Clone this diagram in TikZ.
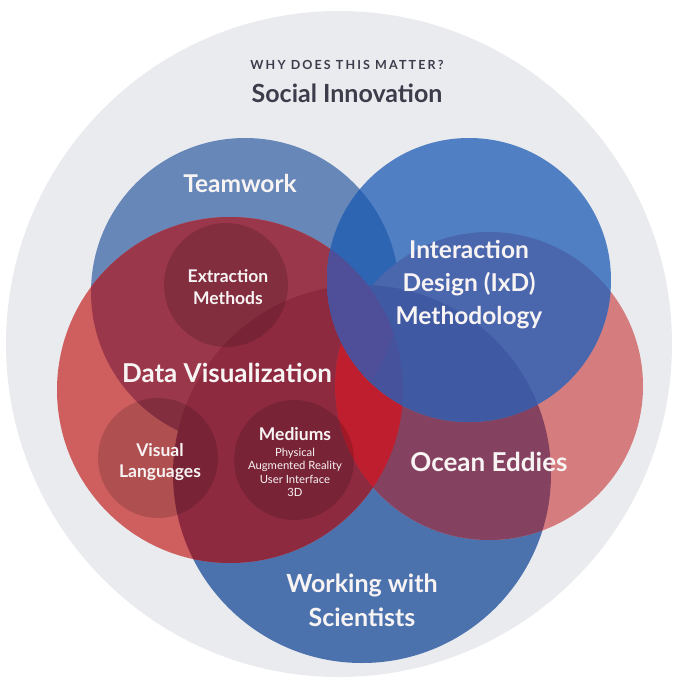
\documentclass[tikz,border=0pt]{standalone}
\usepackage{fontspec}
\setmainfont{Lato}
\definecolor{bgc}{HTML}{EAEBEF}
\definecolor{cT}{HTML}{6687B8}
\definecolor{cI}{HTML}{507FC3}
\definecolor{cD}{HTML}{CF5E5F}
\definecolor{cO}{HTML}{D47C7E}
\definecolor{cW}{HTML}{4C72AD}
\definecolor{cDT}{HTML}{9B374B}
\definecolor{cDW}{HTML}{8E2A40}
\definecolor{cOW}{HTML}{854260}
\definecolor{cDO}{HTML}{BE1E2D}
\definecolor{cIT}{HTML}{2E65B2}
\definecolor{cIO}{HTML}{4A66AD}
\definecolor{cIW}{HTML}{3F5AA3}
\definecolor{cID}{HTML}{47529C}
\definecolor{cIDT}{HTML}{4E4F98}
\definecolor{ink}{HTML}{3C3C4B}
\definecolor{paper}{HTML}{F8F4F4}
\begin{document}
\begin{tikzpicture}[x=1pt,y=-1pt,
  lbl/.style={text=paper,align=center,inner sep=0pt},
  big/.style={lbl,font=\bfseries\fontsize{25}{33}\selectfont},
  mid/.style={lbl,font=\bfseries\fontsize{17.5}{21}\selectfont},
  small/.style={lbl,font=\fontsize{11.3}{13.5}\selectfont},
  shade/.style={fill=black,fill opacity=0.15}]
\useasboundingbox (0,0) rectangle (678,685);
\def\Tc{(245,292) circle[radius=154pt]}
\def\Ic{(469,280) circle[radius=142pt]}
\def\Dc{(230,390) circle[radius=173pt]}
\def\Oc{(489,386) circle[radius=154pt]}
\def\Wc{(362,474) circle[radius=189pt]}
% background
\fill[bgc] (339,344) circle[radius=333pt];
% single circles
\fill[cT] \Tc;
\fill[cW] \Wc;
\fill[cD] \Dc;
\fill[cO] \Oc;
% overlaps in Data Visualization
\begin{scope}
  \clip \Dc;
  \fill[cDT] \Tc;
  \fill[cDW] \Wc;
\end{scope}
% overlaps in Ocean Eddies
\begin{scope}
  \clip \Oc;
  \fill[cOW] \Wc;
  \fill[cDO] \Dc;
\end{scope}
% Interaction Design on top
\fill[cI] \Ic;
\begin{scope}
  \clip \Ic;
  \fill[cIT] \Tc;
  \fill[cIO] \Oc;
  \fill[cIW] \Wc;
  \fill[cID] \Dc;
  \begin{scope}
    \clip \Dc;
    \fill[cIDT] \Tc;
  \end{scope}
\end{scope}
% inner circles
\fill[shade] (226,285) circle[radius=62pt];
\fill[shade] (158,458) circle[radius=60pt];
\fill[shade] (294,460) circle[radius=60pt];
% titles
\node[text=ink,inner sep=0pt,font=\bfseries\fontsize{12.5}{14}\selectfont\addfontfeature{LetterSpace=17}] (why) at (347,65) {WHY DOES THIS MATTER?};
\node[text=ink,inner sep=0pt,font=\bfseries\fontsize{25}{28}\selectfont] (social) at (347,93) {Social Innovation};
% labels
\node[big,font=\bfseries\fontsize{24.5}{28}\selectfont] (team) at (240,183) {Teamwork};
\node[big,font=\bfseries\fontsize{24.5}{33}\selectfont] (ixd) at (469,285) {Interaction\\Design (IxD)\\Methodology};
\node[big,font=\bfseries\fontsize{26}{33}\selectfont] (dv) at (227,373) {Data Visualization};
\node[big,font=\bfseries\fontsize{26}{33}\selectfont] (oe) at (489,462) {Ocean Eddies};
\node[big,font=\bfseries\fontsize{25}{34}\selectfont] (wws) at (362,600) {Working with\\Scientists};
\node[mid,font=\bfseries\fontsize{17.5}{22}\selectfont] (em) at (228,287) {Extraction\\Methods};
\node[mid,font=\bfseries\fontsize{17.5}{21}\selectfont] (vl) at (160,462) {Visual\\Languages};
\node[mid,font=\bfseries\fontsize{17.5}{20}\selectfont] (med) at (295,434) {Mediums};
\node[small] (medsub) at (295,472.5) {Physical\\Augmented Reality\\User Interface\\3D};
\end{tikzpicture}
\end{document}
